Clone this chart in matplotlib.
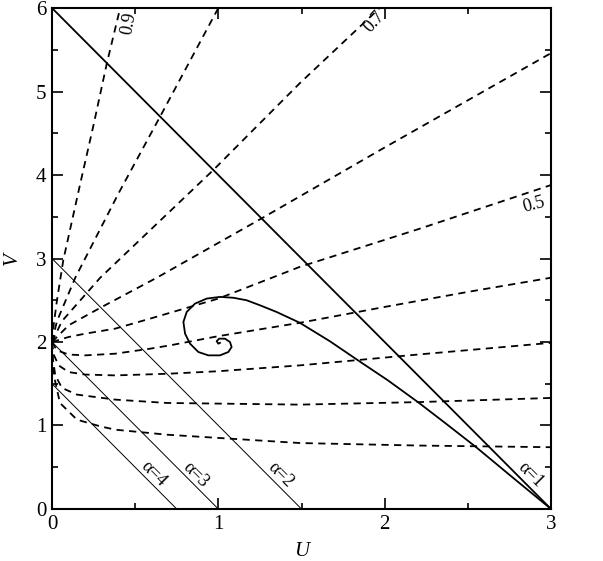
import matplotlib
matplotlib.use("Agg")
import matplotlib.pyplot as plt
from matplotlib.ticker import MultipleLocator

plt.rcParams['font.family'] = ['Liberation Serif', 'DejaVu Serif']

# isothermal track (U, V)
spiral_u = [3.0, 2.78, 2.55, 2.37, 2.20, 2.02, 1.84, 1.67, 1.49, 1.35, 1.25, 1.17, 1.09, 1.01,
            0.93, 0.86, 0.81, 0.79, 0.80, 0.83, 0.88, 0.94, 1.01, 1.06, 1.08, 1.07, 1.04,
            1.005, 0.99, 1.00, 1.01]
spiral_v = [0.0, 0.36, 0.74, 1.02, 1.28, 1.54, 1.78, 2.01, 2.23, 2.36, 2.44, 2.50, 2.53, 2.54,
            2.52, 2.46, 2.36, 2.24, 2.10, 1.98, 1.88, 1.84, 1.84, 1.88, 1.94, 2.00, 2.04,
            2.04, 2.01, 1.98, 1.99]

# dashed family, one (U, V) list per curve
c09_u = [0.0, 0.01, 0.03, 0.068, 0.168, 0.25, 0.33, 0.41]
c09_v = [2.0, 2.2, 2.5, 2.98, 3.88, 4.6, 5.34, 6.0]
c08_u = [0.0, 0.03, 0.14, 0.4, 0.65, 1.0]
c08_v = [2.0, 2.25, 2.77, 3.78, 4.7, 6.0]
c07_u = [0.0, 0.06, 0.29, 0.97, 1.49, 1.97]
c07_v = [2.0, 2.25, 2.77, 4.06, 5.1, 6.0]
c06_u = [0.0, 0.1, 0.3, 0.63, 1.26, 2.0, 3.0]
c06_v = [2.0, 2.2, 2.42, 2.77, 3.48, 4.33, 5.46]
c05_u = [0.0, 0.1, 0.2, 0.38, 0.59, 0.71, 1.0, 1.49, 2.2, 3.0]
c05_v = [2.0, 2.06, 2.1, 2.16, 2.28, 2.35, 2.52, 2.9, 3.35, 3.88]
c04_u = [0.0, 0.03, 0.1, 0.2, 0.38, 0.59, 0.71, 1.0, 1.49, 2.0, 2.5, 3.0]
c04_v = [2.0, 1.9, 1.85, 1.84, 1.86, 1.92, 1.96, 2.07, 2.23, 2.42, 2.6, 2.77]
c03_u = [0.0, 0.01, 0.04, 0.1, 0.2, 0.38, 0.7, 1.0, 1.49, 2.2, 3.0]
c03_v = [2.0, 1.85, 1.72, 1.64, 1.61, 1.60, 1.62, 1.65, 1.72, 1.85, 1.99]
c02_u = [0.0, 0.005, 0.02, 0.06, 0.15, 0.38, 0.69, 1.49, 2.2, 3.0]
c02_v = [2.0, 1.8, 1.6, 1.45, 1.37, 1.31, 1.27, 1.25, 1.28, 1.33]
c01_u = [0.0, 0.005, 0.018, 0.048, 0.15, 0.29, 0.38, 0.69, 1.49, 2.2, 3.0]
c01_v = [2.0, 1.7, 1.54, 1.27, 1.07, 0.99, 0.95, 0.89, 0.79, 0.76, 0.74]

dashed_u = [c09_u, c08_u, c07_u, c06_u, c05_u, c04_u, c03_u, c02_u, c01_u]
dashed_v = [c09_v, c08_v, c07_v, c06_v, c05_v, c04_v, c03_v, c02_v, c01_v]

# alpha lines: U + V/2 = 3/alpha
alphas = [1, 2, 3, 4]
alpha_u0 = [3.0, 1.5, 1.0, 0.75]
alpha_v0 = [6.0, 3.0, 2.0, 1.5]

fig = plt.figure(figsize=(6.03, 5.61), dpi=100)
ax = fig.add_axes([0.0862, 0.0927, 0.8276, 0.893])

for us, vs in zip(dashed_u, dashed_v):
    ax.plot(us, vs, color='black', lw=1.3, ls=(0, (4, 3)))

for a, u0, v0 in zip(alphas, alpha_u0, alpha_v0):
    ax.plot([0, u0], [v0, 0], color='black', lw=1.3 if a == 1 else 0.7)

ax.plot(spiral_u, spiral_v, color='black', lw=1.3)

# labels
ax.text(0.46, 5.82, '0.9', fontsize=13, rotation=80, ha='center', va='center')
ax.text(1.94, 5.83, '0.7', fontsize=13, rotation=48, ha='center', va='center')
ax.text(2.9, 3.64, '0.5', fontsize=13, rotation=15, ha='center', va='center')
ax.text(0.61, 0.42, 'α=4', fontsize=13, rotation=-45, ha='center', va='center')
ax.text(0.865, 0.41, 'α=3', fontsize=13, rotation=-45, ha='center', va='center')
ax.text(1.376, 0.41, 'α=2', fontsize=13, rotation=-45, ha='center', va='center')
ax.text(2.88, 0.41, 'α=1', fontsize=13, rotation=-45, ha='center', va='center')

ax.set_xlim(0, 3)
ax.set_ylim(0, 6)
ax.xaxis.set_major_locator(MultipleLocator(1))
ax.xaxis.set_minor_locator(MultipleLocator(0.5))
ax.yaxis.set_major_locator(MultipleLocator(1))
ax.yaxis.set_minor_locator(MultipleLocator(0.5))
ax.tick_params(which='both', direction='in', top=True, right=True, labelsize=15, width=1.2)
ax.tick_params(which='major', length=8, pad=4)
ax.tick_params(which='minor', length=4)
for s in ax.spines.values():
    s.set_linewidth(1.5)

ax.set_xlabel('U', fontsize=15, fontstyle='italic', labelpad=6)
ax.set_ylabel('V', fontsize=15, fontstyle='italic', labelpad=10)

fig.savefig('out.png', dpi=100)
